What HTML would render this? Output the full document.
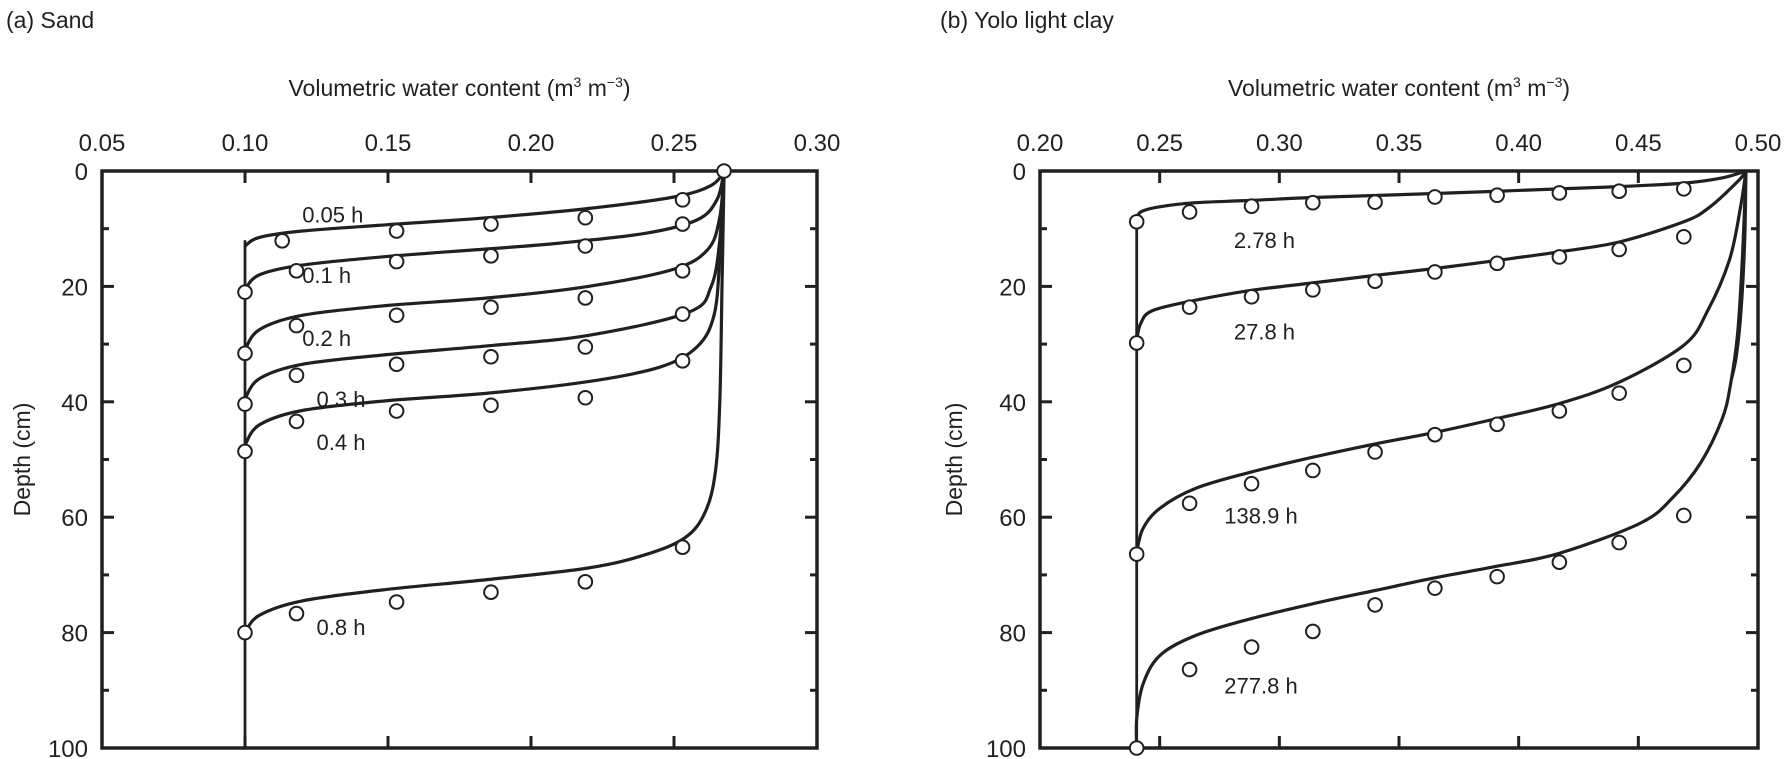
<!DOCTYPE html>
<html><head><meta charset="utf-8"><style>
html,body{margin:0;padding:0;background:#fff;}
svg{display:block;font-family:"Liberation Sans",Arial,sans-serif;}
</style></head><body>
<svg id="chart" width="1786" height="759" viewBox="0 0 1786 759" xmlns="http://www.w3.org/2000/svg">
<text x="6" y="28" font-size="23" fill="#231f20">(a) Sand</text>
<text x="940" y="28" font-size="23" fill="#231f20">(b) Yolo light clay</text>
</svg>
<script>
// ---------- Data ----------
const sandXTicks = [0.05, 0.10, 0.15, 0.20, 0.25, 0.30];
const clayXTicks = [0.20, 0.25, 0.30, 0.35, 0.40, 0.45, 0.50];
const depthTicks = [0, 20, 40, 60, 80, 100];
const depthMinorTicks = [10, 30, 50, 70, 90];

const sandTimes = ["0.05 h", "0.1 h", "0.2 h", "0.3 h", "0.4 h", "0.8 h"];
const sandLabelTheta = [0.120, 0.120, 0.120, 0.125, 0.125, 0.125];
const sandLabelDepth = [7.5, 18, 28.9, 39.5, 47, 79];
const sandObsTheta = [
  [0.113, 0.153, 0.186, 0.219, 0.253],
  [0.100, 0.118, 0.153, 0.186, 0.219, 0.253],
  [0.100, 0.118, 0.153, 0.186, 0.219, 0.253],
  [0.100, 0.118, 0.153, 0.186, 0.219, 0.253],
  [0.100, 0.118, 0.153, 0.186, 0.219, 0.253],
  [0.100, 0.118, 0.153, 0.186, 0.219, 0.253]
];
const sandObsDepth = [
  [12.1, 10.4, 9.2, 8.1, 5.0],
  [21.0, 17.3, 15.7, 14.7, 13.0, 9.2],
  [31.6, 26.8, 25.0, 23.6, 22.0, 17.3],
  [40.4, 35.4, 33.5, 32.2, 30.5, 24.8],
  [48.6, 43.4, 41.6, 40.6, 39.3, 32.9],
  [80.0, 76.7, 74.7, 73.0, 71.2, 65.2]
];
const sandSurfaceTheta = 0.2675;
const sandCurveTheta = [
  [0.2675, 0.263, 0.25, 0.22, 0.185, 0.15, 0.12, 0.105, 0.100],
  [0.2675, 0.265, 0.258, 0.24, 0.21, 0.185, 0.15, 0.12, 0.105, 0.100],
  [0.2675, 0.266, 0.262, 0.25, 0.22, 0.185, 0.15, 0.12, 0.105, 0.100],
  [0.2675, 0.266, 0.263, 0.255, 0.22, 0.185, 0.15, 0.12, 0.105, 0.100],
  [0.2675, 0.266, 0.264, 0.258, 0.245, 0.22, 0.185, 0.15, 0.12, 0.105, 0.100],
  [0.2675, 0.2668, 0.266, 0.2645, 0.261, 0.254, 0.24, 0.22, 0.185, 0.15, 0.12, 0.105, 0.100]
];
const sandCurveDepth = [
  [0, 2.5, 4.5, 6.5, 8.1, 9.3, 10.4, 11.5, 13],
  [0, 5, 8.5, 10.8, 12.5, 13.5, 14.8, 16.3, 18, 20.5],
  [0, 8, 13.5, 17, 20, 22, 23.3, 25, 27.5, 31],
  [0, 12, 20, 24.5, 28.5, 30.3, 31.8, 33.5, 36, 39.5],
  [0, 15, 25, 30.5, 34, 36.5, 38.5, 39.8, 41.5, 44, 47.5],
  [0, 20, 40, 52, 59, 63.5, 66.5, 68.8, 70.8, 72.5, 74.5, 77, 80]
];
const sandInitialTheta = 0.100;
const sandInitialDepth = [12, 100];

const clayTimes = ["2.78 h", "27.8 h", "138.9 h", "277.8 h"];
const clayLabelTheta = [0.281, 0.281, 0.277, 0.277];
const clayLabelDepth = [12, 27.8, 59.7, 89.2];
const clayObsTheta = [0.2404, 0.2625, 0.2884, 0.314, 0.340, 0.365, 0.391, 0.417, 0.442, 0.469];
const clayObsDepth = [
  [8.8, 7.1, 6.1, 5.5, 5.4, 4.5, 4.2, 3.8, 3.5, 3.1],
  [29.8, 23.6, 21.8, 20.6, 19.1, 17.5, 16.0, 14.9, 13.6, 11.4],
  [66.4, 57.6, 54.2, 51.9, 48.7, 45.7, 43.9, 41.6, 38.5, 33.7],
  [100, 86.4, 82.5, 79.8, 75.2, 72.3, 70.3, 67.8, 64.4, 59.7]
];
const clayCurveTheta = [
  [0.495, 0.485, 0.469, 0.442, 0.417, 0.365, 0.314, 0.288, 0.265, 0.25, 0.2425, 0.2404],
  [0.495, 0.492, 0.48, 0.469, 0.442, 0.417, 0.391, 0.365, 0.340, 0.314, 0.288, 0.265, 0.247, 0.242, 0.2404],
  [0.495, 0.4925, 0.488, 0.479, 0.469, 0.442, 0.417, 0.391, 0.365, 0.340, 0.314, 0.288, 0.265, 0.25, 0.243, 0.2404],
  [0.495, 0.4935, 0.4915, 0.4885, 0.485, 0.476, 0.4646, 0.451, 0.4174, 0.391, 0.365, 0.340, 0.314, 0.288, 0.265, 0.25, 0.243, 0.2404, 0.2404]
];
const clayCurveDepth = [
  [0, 1.2, 2.1, 2.7, 3.1, 3.9, 4.6, 5.1, 5.5, 6.2, 7.0, 8.0],
  [0, 1.6, 6.2, 8.8, 12.3, 14.0, 15.5, 16.9, 18.1, 19.4, 20.7, 22.4, 24.2, 26.5, 29.4],
  [0, 6.8, 15.5, 24.2, 30.2, 36.6, 40.3, 42.9, 45.3, 47.3, 49.6, 52.2, 55.0, 58.5, 62.0, 66.0],
  [0, 15, 28, 37, 43, 50.6, 56.5, 61.0, 66.2, 68.5, 70.5, 72.7, 75.0, 77.6, 80.5, 84.0, 89.0, 95.0, 100]
];
const clayEdgeTheta = [0.495, 0.4945, 0.493, 0.491, 0.489];
const clayEdgeDepth = [0, 12, 24, 32, 36];
const clayInitialTheta = 0.2404;
const clayInitialDepth = [8, 100];

// ---------- Drawing ----------
const NS = "http://www.w3.org/2000/svg";
const svg = document.getElementById("chart");
const INK = "#231f20";
const Y0 = 171, Y1 = 748;
function make(tag, attrs, parent) {
  const e = document.createElementNS(NS, tag);
  for (const k in attrs) e.setAttribute(k, attrs[k]);
  (parent || svg).appendChild(e);
  return e;
}
function yScale(d) { return Y0 + (d / 100) * (Y1 - Y0); }
function smoothPath(pts) {
  let d = "M" + pts[0][0].toFixed(1) + "," + pts[0][1].toFixed(1);
  for (let i = 0; i < pts.length - 1; i++) {
    const p0 = pts[Math.max(0, i - 1)], p1 = pts[i], p2 = pts[i + 1], p3 = pts[Math.min(pts.length - 1, i + 2)];
    const c1x = p1[0] + (p2[0] - p0[0]) / 6, c1y = p1[1] + (p2[1] - p0[1]) / 6;
    const c2x = p2[0] - (p3[0] - p1[0]) / 6, c2y = p2[1] - (p3[1] - p1[1]) / 6;
    d += " C" + c1x.toFixed(1) + "," + c1y.toFixed(1) + " " + c2x.toFixed(1) + "," + c2y.toFixed(1) + " " + p2[0].toFixed(1) + "," + p2[1].toFixed(1);
  }
  return d;
}

function drawPanel(cfg) {
  const g = make("g", {});
  
  
  const xs = v => cfg.x0 + (v - cfg.xmin) / (cfg.xmax - cfg.xmin) * (cfg.x1 - cfg.x0);

  const at = make("text", {x: (cfg.x0 + cfg.x1) / 2, y: 96, "font-size": 23, "text-anchor": "middle", fill: INK}, g);
  
  
  at.innerHTML = 'Volumetric water content (m<tspan font-size="14" dy="-9">3</tspan><tspan dy="9"> m</tspan><tspan font-size="14" dy="-9">\u22123</tspan><tspan dy="9">)</tspan>';

  const yt = make("text", {x: 0, y: 0, "font-size": 23, "text-anchor": "middle", fill: INK, transform: "translate(" + cfg.ytx + "," + ((Y0 + Y1) / 2) + ") rotate(-90)"}, g);
  
  
  yt.textContent = "Depth (cm)";

  const fr = make("rect", {x: cfg.x0, y: Y0, width: cfg.x1 - cfg.x0, height: Y1 - Y0, fill: "none", stroke: INK, "stroke-width": 3.5}, g);
  
  

  cfg.xticks.forEach((v, i) => {
    const x = xs(v);
    if (i > 0 && i < cfg.xticks.length - 1) {
      const t1 = make("line", {x1: x, x2: x, y1: Y0, y2: Y0 + 12, stroke: INK, "stroke-width": 3}, g);
      
      
      const t2 = make("line", {x1: x, x2: x, y1: Y1, y2: Y1 - 12, stroke: INK, "stroke-width": 3}, g);
      
      
    }
    const lb = make("text", {x: x, y: 151, "font-size": 24, "text-anchor": "middle", fill: INK}, g);
    
    
    lb.textContent = v.toFixed(2);
  });
  depthTicks.forEach(d => {
    const y = yScale(d);
    if (d > 0 && d < 100) {
      const t1 = make("line", {x1: cfg.x0, x2: cfg.x0 + 12, y1: y, y2: y, stroke: INK, "stroke-width": 3}, g);
      
      
      const t2 = make("line", {x1: cfg.x1, x2: cfg.x1 - 12, y1: y, y2: y, stroke: INK, "stroke-width": 3}, g);
      
      
    }
    const lb = make("text", {x: cfg.x0 - 14, y: y + 9, "font-size": 24, "text-anchor": "end", fill: INK}, g);
    
    
    lb.textContent = d;
  });
  depthMinorTicks.forEach(d => {
    const y = yScale(d);
    const t1 = make("line", {x1: cfg.x0, x2: cfg.x0 + 7, y1: y, y2: y, stroke: INK, "stroke-width": 3}, g);
    
    
    const t2 = make("line", {x1: cfg.x1, x2: cfg.x1 - 7, y1: y, y2: y, stroke: INK, "stroke-width": 3}, g);
    
    
  });

  const iv = make("line", {x1: xs(cfg.initTheta), x2: xs(cfg.initTheta), y1: yScale(cfg.initDepth[0]), y2: yScale(cfg.initDepth[1]), stroke: INK, "stroke-width": 2.8}, g);
  
  

  if (cfg.edgeTheta) {
    const ep = make("path", {d: smoothPath(cfg.edgeTheta.map((t, i) => [xs(t), yScale(cfg.edgeDepth[i])])), fill: "none", stroke: INK, "stroke-width": 3}, g);
    
    
  }

  cfg.curveTheta.forEach((arr, k) => {
    const pts = arr.map((t, i) => [xs(t), yScale(cfg.curveDepth[k][i])]);
    const p = make("path", {d: smoothPath(pts), fill: "none", stroke: INK, "stroke-width": 3.2, "stroke-linejoin": "round"}, g);
    
    
  });

  cfg.obsDepth.forEach((arr, k) => {
    arr.forEach((d, i) => {
      const t = Array.isArray(cfg.obsTheta[0]) ? cfg.obsTheta[k][i] : cfg.obsTheta[i];
      const c = make("circle", {cx: xs(t), cy: yScale(d), r: 6.8, fill: "#fff", stroke: INK, "stroke-width": 2}, g);
      
      
    });
  });
  if (cfg.surfaceTheta) {
    const c = make("circle", {cx: xs(cfg.surfaceTheta), cy: yScale(0), r: 6.8, fill: "#fff", stroke: INK, "stroke-width": 2}, g);
    
    
  }

  cfg.times.forEach((s, k) => {
    const lb = make("text", {x: xs(cfg.labelTheta[k]), y: yScale(cfg.labelDepth[k]) + 8, "font-size": 22, fill: INK}, g);
    
    
    lb.textContent = s;
  });
}

drawPanel({
  name: "panel-a-sand", x0: 102, x1: 817, xmin: 0.05, xmax: 0.30, ytx: 30,
  xticks: sandXTicks, times: sandTimes, labelTheta: sandLabelTheta, labelDepth: sandLabelDepth,
  obsTheta: sandObsTheta, obsDepth: sandObsDepth, curveTheta: sandCurveTheta, curveDepth: sandCurveDepth,
  initTheta: sandInitialTheta, initDepth: sandInitialDepth, surfaceTheta: sandSurfaceTheta
});
drawPanel({
  name: "panel-b-clay", x0: 1040, x1: 1758, xmin: 0.20, xmax: 0.50, ytx: 962,
  xticks: clayXTicks, times: clayTimes, labelTheta: clayLabelTheta, labelDepth: clayLabelDepth,
  obsTheta: clayObsTheta, obsDepth: clayObsDepth, curveTheta: clayCurveTheta, curveDepth: clayCurveDepth,
  initTheta: clayInitialTheta, initDepth: clayInitialDepth, edgeTheta: clayEdgeTheta, edgeDepth: clayEdgeDepth
});
</script>
</body></html>
